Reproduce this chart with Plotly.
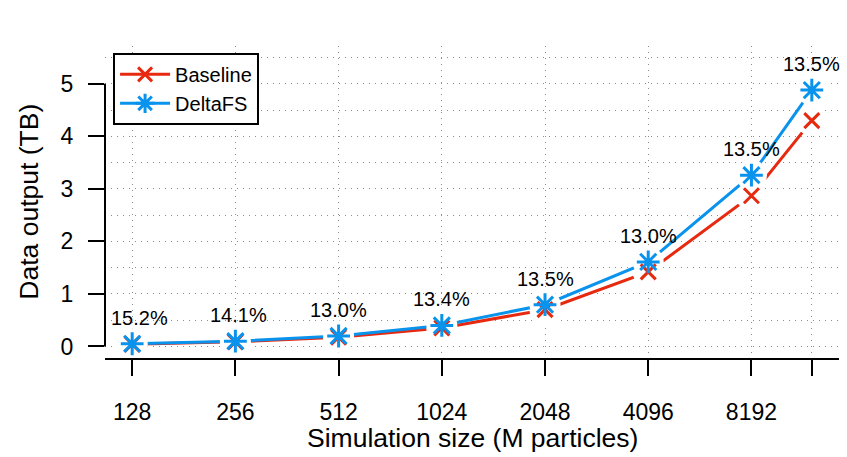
import math
import plotly.graph_objects as go

# Simulation sizes (M particles); the last run has no tick label
sizes = [128, 256, 512, 1024, 2048, 4096, 8192, 12288]
size_labels = ["128", "256", "512", "1024", "2048", "4096", "8192", ""]

# Data output in TB
baseline = [0.044, 0.088, 0.176, 0.352, 0.70, 1.42, 2.87, 4.30]
deltafs = [0.051, 0.100, 0.199, 0.400, 0.795, 1.61, 3.26, 4.88]

# Overhead of DeltaFS over the baseline
overhead = ["15.2%", "14.1%", "13.0%", "13.4%", "13.5%", "13.0%", "13.5%", "13.5%"]

RED = "#E6290F"
BLUE = "#0A93EC"
FONT = "Liberation Sans, Arial, Helvetica, sans-serif"

log_sizes = [math.log10(s) for s in sizes]
lo, hi = log_sizes[0], log_sizes[-1]
pad = 0.04 * (hi - lo)
x_range = [lo - pad, hi + pad]
y_range = [-0.22, 5.72]

fig = go.Figure()

# connecting lines; white discs at each point leave a gap in the line
for ys, color in ((baseline, RED), (deltafs, BLUE)):
    fig.add_trace(go.Scatter(x=sizes, y=ys, mode="lines+markers",
                             line=dict(color=color, width=3),
                             marker=dict(symbol="circle", size=31, color="white",
                                         line=dict(width=0, color="white")),
                             showlegend=False, hoverinfo="skip"))

# point symbols
fig.add_trace(go.Scatter(x=sizes, y=baseline, mode="markers", showlegend=False,
                         marker=dict(symbol="x-thin-open", size=15, color=RED,
                                     line=dict(color=RED, width=3))))
fig.add_trace(go.Scatter(x=sizes, y=deltafs, mode="markers", showlegend=False,
                         marker=dict(symbol="asterisk-open", size=19, color=BLUE,
                                     line=dict(color=BLUE, width=3))))

# legend entries
fig.add_trace(go.Scatter(x=[None], y=[None], mode="lines+markers", name="Baseline",
                         line=dict(color=RED, width=3),
                         marker=dict(symbol="x-thin-open", size=14, color=RED,
                                     line=dict(color=RED, width=3))))
fig.add_trace(go.Scatter(x=[None], y=[None], mode="lines+markers", name="DeltaFS",
                         line=dict(color=BLUE, width=3),
                         marker=dict(symbol="asterisk-open", size=16, color=BLUE,
                                     line=dict(color=BLUE, width=3))))

# overhead labels above the DeltaFS points (annotation x is in log10 units on a log axis)
label_dx = [7, 3, 0, 0, 0, 0, 0, 0]
for xv, yv, txt, dx in zip(log_sizes, deltafs, overhead, label_dx):
    fig.add_annotation(x=xv, y=yv, text=txt, showarrow=False, xanchor="center", yanchor="middle",
                       yshift=26, xshift=dx, font=dict(family=FONT, size=20, color="black"))

# axis titles
fig.add_annotation(xref="paper", yref="paper", x=0.5, y=-0.255, text="Simulation size (M particles)",
                   showarrow=False, xanchor="center", yanchor="middle",
                   font=dict(family=FONT, size=26.5, color="black"))
fig.add_annotation(xref="paper", yref="paper", x=-0.104, y=0.5, text="Data output (TB)",
                   showarrow=False, textangle=-90, xanchor="center", yanchor="middle",
                   font=dict(family=FONT, size=26.5, color="black"))

# y axis line spanning only the tick range
fig.add_shape(type="line", xref="paper", yref="y", x0=0, x1=0, y0=0, y1=5,
              line=dict(color="black", width=2), layer="above")

GRID = dict(showgrid=True, gridcolor="#8c8c8c", gridwidth=1, griddash="1px,5px")

fig.update_xaxes(type="log", range=x_range, tickmode="array",
                 tickvals=sizes, ticktext=size_labels, ticks="outside", ticklen=16, tickwidth=2,
                 tickcolor="black", showline=True, linecolor="black", linewidth=2,
                 zeroline=False,
                 tickfont=dict(family=FONT, size=23, color="black"), ticklabelstandoff=16, **GRID)
fig.update_yaxes(range=y_range, tickmode="array", tickvals=[0, 1, 2, 3, 4, 5],
                 ticks="outside", ticklen=16, tickwidth=2, tickcolor="black",
                 showline=False, zeroline=False,
                 tickfont=dict(family=FONT, size=23, color="black"), ticklabelstandoff=10,
                 minor=dict(tickmode="linear", tick0=0, dtick=0.5, ticks="", showgrid=True,
                            gridcolor="#8c8c8c", gridwidth=1, griddash="1px,5px"),
                 **GRID)

fig.update_layout(
    width=847, height=457,
    margin=dict(l=105, r=8, t=46, b=99),
    plot_bgcolor="white", paper_bgcolor="white",
    font=dict(family=FONT, color="black"),
    legend=dict(x=0.011, y=0.978, xanchor="left", yanchor="top",
                bgcolor="white", bordercolor="black", borderwidth=2,
                font=dict(family=FONT, size=20, color="black"),
                itemwidth=50, tracegroupgap=0),
)

fig.write_html("out.html")
